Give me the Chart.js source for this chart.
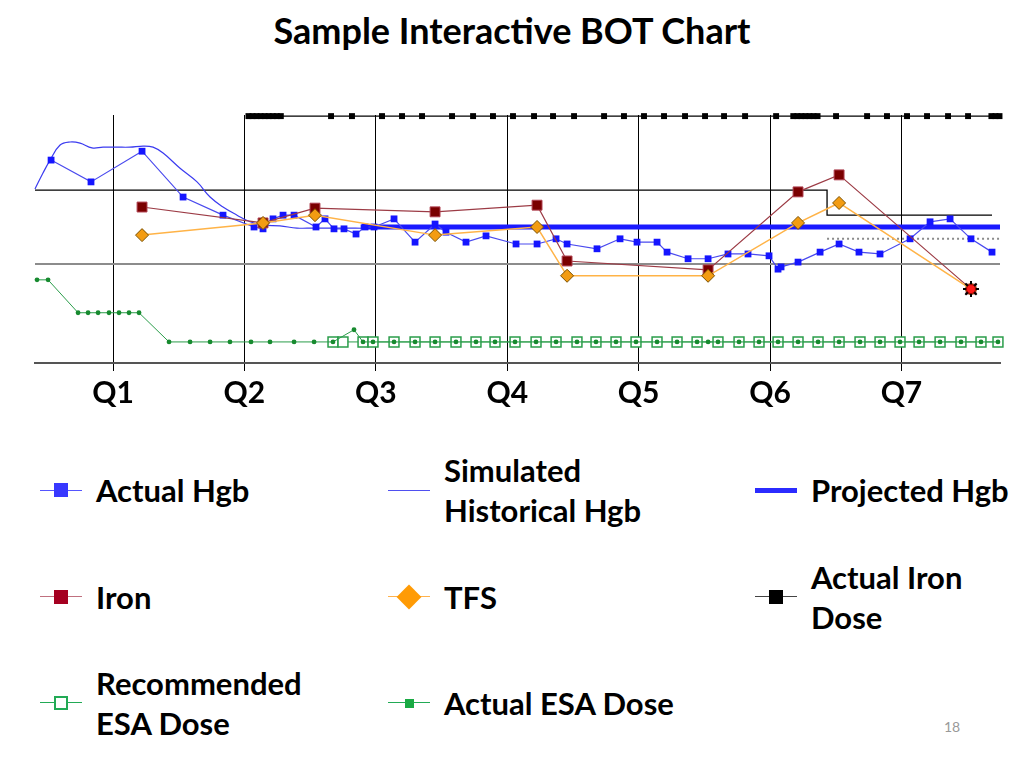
<!DOCTYPE html>
<html>
<head>
<meta charset="utf-8">
<script src="https://cdn.jsdelivr.net/npm/chart.js@4.4.1/dist/chart.umd.min.js"></script>
<style>
  body { margin: 0; background: #fff; width: 1024px; height: 768px; overflow: hidden; position: relative; font-family: Lato, "Open Sans", sans-serif; }
  #title { position: absolute; left: 0; width: 1024px; top: 8px; text-align: center; font-weight: 700; font-size: 36px; color: #000; }
  #wrap { position: absolute; left: 0; top: 0; width: 1024px; height: 420px; }
  .lg-text { position: absolute; font-weight: 700; font-size: 31px; line-height: 40px; color: #000; white-space: nowrap; }
  .lg-line { position: absolute; height: 0; }
  .lg-mark { position: absolute; box-sizing: border-box; }
  #page { position: absolute; left: 944px; top: 718px; font-size: 14px; color: #999; }
</style>
</head>
<body>
<div id="title">Sample Interactive BOT Chart</div>
<div id="wrap"><canvas id="myChart" width="1024" height="420"></canvas></div>
<div id="legend"></div>
<div id="page">18</div>
<script>
// x = week number (13 weeks per quarter), y = Hgb-like scale
var quarterLabels = ['Q1', 'Q2', 'Q3', 'Q4', 'Q5', 'Q6', 'Q7'];
var quarterWeeks = [13, 26, 39, 52, 65, 78, 91];

var actualHgbWeeks = [6.87, 10.82, 15.87, 19.93, 23.88, 26.95, 27.84, 28.83, 29.82, 30.91, 33.08, 33.97, 34.86, 35.85, 37.04, 37.93, 38.82, 40.8, 42.88, 44.86, 45.94, 47.92, 49.9, 52.87, 54.95, 56.83, 57.92, 60.88, 63.16, 64.84, 66.82, 67.81, 69.89, 71.87, 73.84, 75.82, 77.9, 78.79, 79.09, 80.77, 82.95, 84.83, 86.8, 88.88, 91.85, 93.83, 95.81, 97.88, 99.96];
var actualHgbValues = [12.81, 12.22, 13.05, 11.81, 11.32, 11.0, 10.95, 11.22, 11.32, 11.32, 11.0, 11.22, 10.95, 10.95, 10.81, 11.0, 11.0, 11.22, 10.59, 11.08, 10.86, 10.59, 10.76, 10.54, 10.54, 10.68, 10.54, 10.41, 10.68, 10.59, 10.59, 10.32, 10.14, 10.14, 10.27, 10.27, 10.22, 9.86, 9.92, 10.05, 10.32, 10.54, 10.32, 10.27, 10.68, 11.14, 11.22, 10.68, 10.32];

var simHgbWeeks = [5.28, 6.07, 6.77, 7.76, 8.75, 9.74, 10.92, 12.01, 13.4, 14.68, 15.97, 16.96, 17.95, 19.63, 21.31, 22.6, 23.88, 25.27, 26.55, 27.84, 29.52, 31.2, 32.79, 34.47, 36.15, 38.43, 41.39, 44.36, 47.33, 51.29];
var simHgbValues = [12.03, 12.46, 12.81, 13.22, 13.3, 13.27, 13.14, 13.16, 13.16, 13.16, 13.19, 13.16, 13.0, 12.59, 12.22, 11.81, 11.54, 11.32, 11.14, 11.05, 11.03, 10.97, 10.97, 10.97, 10.97, 10.97, 11.03, 10.97, 11.0, 11.0];

var projHgbWeeks = [37.5, 100.75];
var projHgbValues = [11.0, 11.0];

var ironWeeks = [15.87, 27.84, 32.98, 44.86, 54.95, 57.92, 71.87, 80.77, 84.83, 97.88];
var ironValues = [11.54, 11.11, 11.51, 11.41, 11.59, 10.08, 9.84, 11.95, 12.41, 9.32];

var tfsWeeks = [15.87, 27.84, 32.98, 44.86, 54.95, 57.92, 71.87, 80.77, 84.83, 97.88];
var tfsValues = [10.78, 11.11, 11.32, 10.78, 11.0, 9.68, 9.68, 11.11, 11.65, 9.32];

var alertWeeks = [97.88];
var alertValues = [9.32];

var ironDoseWeeks = [26.4, 26.8, 27.2, 27.6, 28.0, 28.4, 28.8, 29.2, 29.6, 34.57, 36.64, 39.61, 41.59, 43.57, 46.54, 48.62, 50.59, 52.57, 54.65, 56.53, 58.61, 61.58, 63.55, 65.53, 67.51, 69.59, 71.57, 73.45, 75.53, 78.6, 80.3, 80.7, 81.1, 81.5, 81.9, 82.3, 82.7, 84.53, 87.6, 89.57, 91.55, 93.53, 95.61, 97.59, 99.9, 100.3, 100.7];
var ironDoseLevel = 14.0;

var esaWeeks = [5.48, 6.57, 9.54, 10.53, 11.52, 12.6, 13.59, 14.58, 15.57, 18.54, 20.62, 22.6, 24.57, 26.65, 28.53, 30.91, 32.89, 34.76, 36.84, 37.73, 38.72, 40.8, 42.88, 44.86, 46.93, 48.91, 50.79, 52.77, 54.85, 56.83, 58.9, 60.78, 62.76, 64.74, 66.82, 68.8, 70.78, 71.87, 72.85, 74.93, 76.91, 78.79, 80.77, 82.75, 84.83, 86.9, 88.88, 90.86, 92.74, 94.82, 96.89, 98.87, 100.55];
var esaValues = [9.57, 9.57, 8.68, 8.68, 8.68, 8.68, 8.68, 8.68, 8.68, 7.89, 7.89, 7.89, 7.89, 7.89, 7.89, 7.89, 7.89, 7.89, 8.22, 7.89, 7.89, 7.89, 7.89, 7.89, 7.89, 7.89, 7.89, 7.89, 7.89, 7.89, 7.89, 7.89, 7.89, 7.89, 7.89, 7.89, 7.89, 7.89, 7.89, 7.89, 7.89, 7.89, 7.89, 7.89, 7.89, 7.89, 7.89, 7.89, 7.89, 7.89, 7.89, 7.89, 7.89];

var recEsaWeeks = [34.76, 35.75, 37.73, 38.72, 40.8, 42.88, 44.86, 46.93, 48.91, 50.79, 52.77, 54.85, 56.83, 58.9, 60.78, 62.76, 64.74, 66.82, 68.8, 70.78, 72.85, 74.93, 76.91, 78.79, 80.77, 82.75, 84.83, 86.9, 88.88, 90.86, 92.74, 94.82, 96.89, 98.87, 100.55];
var recEsaLevel = 7.89;

// target band lines
var upperWeeks = [5.28, 83.64, 83.64, 99.96];
var upperValues = [12.0, 12.0, 11.32, 11.32];
var lowerWeeks = [5.28, 100.75];
var lowerValues = [10.0, 10.0];
var goalWeeks = [83.64, 100.75];
var goalValues = [10.68, 10.68];

function pts(xs, ys) {
    var out = [];
    for (i = 0; i < xs.length; i++) {
        out.push({ x: xs[i], y: Array.isArray(ys) ? ys[i] : ys });
    }
    return out;
}

function line(label, data, color, width, extra) {
    var ds = {
        label: label,
        data: data,
        borderColor: color,
        borderWidth: width,
        pointRadius: 0,
        tension: 0,
        clip: false
    };
    for (var k in extra) ds[k] = extra[k];
    return ds;
}

let ctx = document.getElementById('myChart').getContext('2d');

// listed top-most first (chart.js draws the first dataset last)
let botChart = new Chart(ctx, {
    type: 'line',
    data: {
        datasets: [
            line('alert2', pts(alertWeeks, alertValues), '#000', 0, {
                pointStyle: 'circle', pointRadius: 4.5, pointBorderColor: '#900', pointBorderWidth: 1, pointBackgroundColor: '#ff1a1a'
            }),
            line('alert', pts(alertWeeks, alertValues), '#000', 0, {
                pointStyle: 'star', pointRadius: 8, pointBorderColor: '#000', pointBorderWidth: 2, pointBackgroundColor: '#f00'
            }),
            line('TFS', pts(tfsWeeks, tfsValues), '#ffb347', 1.5, {
                pointStyle: 'rectRot', pointRadius: 6.5, pointBackgroundColor: '#f39c12', pointBorderColor: '#7a5000', pointBorderWidth: 1
            }),
            line('Iron', pts(ironWeeks, ironValues), '#9c3b45', 1.2, {
                pointStyle: 'rect', pointRadius: 7, pointBackgroundColor: '#7a0000', pointBorderColor: '#b04050', pointBorderWidth: 1
            }),
            line('Actual Hgb', pts(actualHgbWeeks, actualHgbValues), '#4a4aee', 1.2, {
                pointStyle: 'rect', pointRadius: 4.8, pointBackgroundColor: '#1515ff', pointBorderColor: '#1515ff', pointBorderWidth: 0
            }),
            line('Projected Hgb', pts(projHgbWeeks, projHgbValues), '#1a1aff', 5, {}),
            line('Simulated Historical Hgb', pts(simHgbWeeks, simHgbValues), '#3b3bf0', 1.2, { tension: 0.4 }),
            line('Actual Iron Dose', pts(ironDoseWeeks, ironDoseLevel), '#000', 1.2, {
                pointStyle: 'rect', pointRadius: 4.2, pointBackgroundColor: '#000', pointBorderColor: '#000', pointBorderWidth: 0
            }),
            line('Actual ESA Dose', pts(esaWeeks, esaValues), '#2a9d4a', 1, {
                pointStyle: 'circle', pointRadius: 2.4, pointBackgroundColor: '#178a2f', pointBorderColor: '#178a2f', pointBorderWidth: 0
            }),
            line('Recommended ESA Dose', pts(recEsaWeeks, recEsaLevel), '#2a9d4a', 1, {
                pointStyle: 'rect', pointRadius: 7, pointBackgroundColor: '#fff', pointBorderColor: '#2a9d4a', pointBorderWidth: 1.5
            }),
            line('goal', pts(goalWeeks, goalValues), '#8a8a8a', 2, { borderDash: [2, 3] }),
            line('lower', pts(lowerWeeks, lowerValues), '#8c8c8c', 2, {}),
            line('upper', pts(upperWeeks, upperValues), '#000', 1.3, {})
        ]
    },
    options: {
        responsive: false,
        animation: false,
        layout: { padding: { left: 35, right: 24, top: 115, bottom: 0 } },
        plugins: { legend: { display: false }, tooltip: { enabled: false } },
        scales: {
            x: {
                type: 'linear',
                min: 5.28,
                max: 100.75,
                afterBuildTicks: function (s) {
                    s.ticks = quarterWeeks.map(function (w) { return { value: w }; });
                },
                afterFit: function (s) { s.height = 57; },
                ticks: {
                    autoSkip: false,
                    maxRotation: 0,
                    padding: 4,
                    color: '#000',
                    font: { family: 'Lato', weight: 'bold', size: 30 },
                    callback: function (v) { return quarterLabels[quarterWeeks.indexOf(v)]; }
                },
                grid: { color: '#000', lineWidth: 1, tickLength: 8 },
                border: { color: '#555', width: 2 }
            },
            y: {
                display: false,
                min: 7.32,
                max: 14.03
            }
        }
    }
});

// html legend, 3 columns x 3 rows
var legendCols = [40, 388, 755];
var legendRows = [490, 597, 703];
var legendItems = [
    { text: 'Actual Hgb', col: 0, row: 0, line: '#5555ff', lw: 1, mark: 'sq', fill: '#3838ff', size: 14 },
    { text: 'Simulated<br>Historical Hgb', col: 1, row: 0, line: '#4f4ff0', lw: 1 },
    { text: 'Projected Hgb', col: 2, row: 0, line: '#2b2bff', lw: 5 },
    { text: 'Iron', col: 0, row: 1, line: '#c0707f', lw: 1.5, mark: 'sq', fill: '#a50021', size: 14 },
    { text: 'TFS', col: 1, row: 1, line: '#ffb24d', lw: 1.5, mark: 'dia', fill: '#ff9b05', size: 16 },
    { text: 'Actual Iron<br>Dose', col: 2, row: 1, line: '#444', lw: 1.2, mark: 'sq', fill: '#000', size: 14 },
    { text: 'Recommended<br>ESA Dose', col: 0, row: 2, line: '#22aa55', lw: 1.2, mark: 'hollow', fill: '#22aa55', size: 14 },
    { text: 'Actual ESA Dose', col: 1, row: 2, line: '#22aa55', lw: 1.2, mark: 'sq', fill: '#1aaa44', size: 9 }
];
var lg = document.getElementById('legend');
legendItems.forEach(function (it) {
    var x0 = legendCols[it.col], cy = legendRows[it.row];
    var ln = document.createElement('div');
    ln.className = 'lg-line';
    ln.style.left = x0 + 'px';
    ln.style.width = '42px';
    ln.style.top = (cy - it.lw / 2) + 'px';
    ln.style.borderTop = it.lw + 'px solid ' + it.line;
    lg.appendChild(ln);
    if (it.mark) {
        var m = document.createElement('div');
        m.className = 'lg-mark';
        m.style.width = it.size + 'px';
        m.style.height = it.size + 'px';
        m.style.left = (x0 + 21 - it.size / 2) + 'px';
        m.style.top = (cy - it.size / 2) + 'px';
        if (it.mark === 'hollow') {
            m.style.background = '#fff';
            m.style.border = '2px solid ' + it.fill;
        } else {
            m.style.background = it.fill;
        }
        if (it.mark === 'dia') {
            m.style.transform = 'rotate(45deg) scale(1.1)';
        }
        lg.appendChild(m);
    }
    var t = document.createElement('div');
    t.className = 'lg-text';
    t.innerHTML = it.text;
    var lines = it.text.split('<br>').length;
    t.style.left = (x0 + 56) + 'px';
    t.style.top = (cy - lines * 20) + 'px';
    lg.appendChild(t);
});
</script>
</body>
</html>
